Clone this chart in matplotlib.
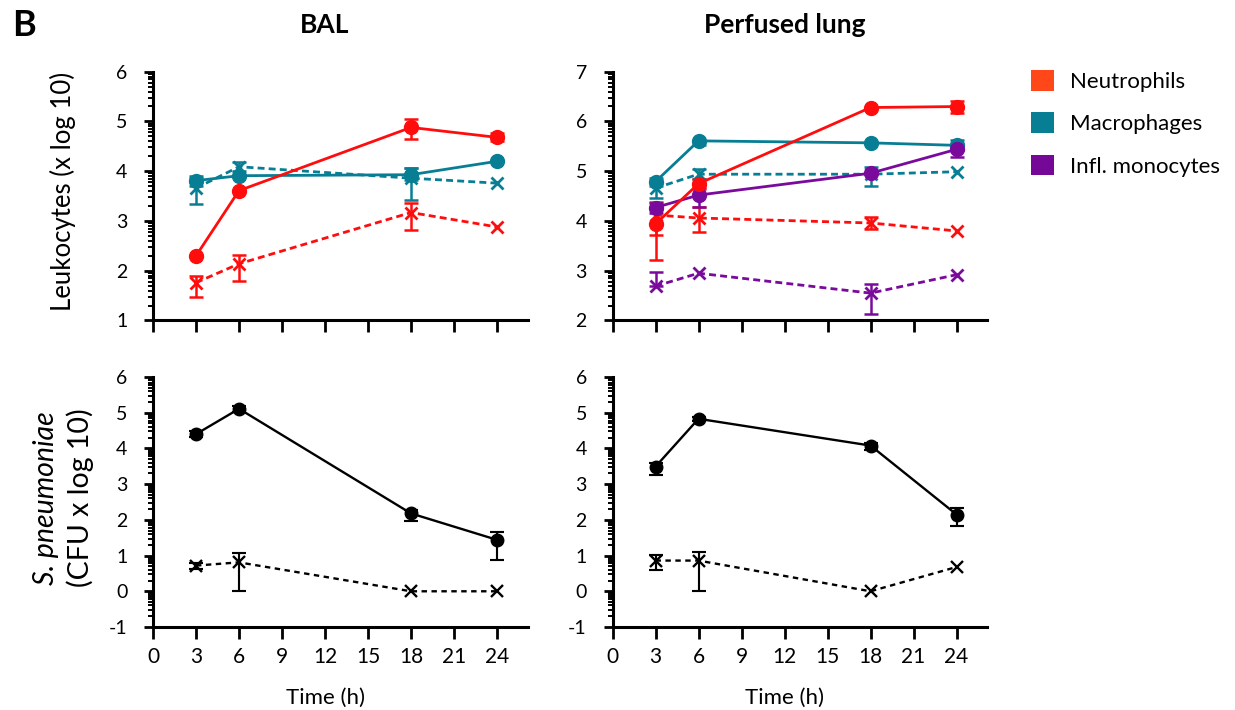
import matplotlib.pyplot as plt
import numpy as np
from matplotlib.patches import Patch

plt.rcParams['font.family'] = ['Lato', 'DejaVu Sans']
plt.rcParams['axes.unicode_minus'] = False

time = [3, 6, 18, 24]
x_ticks = [0, 3, 6, 9, 12, 15, 18, 21, 24]

# series "a" = solid line / circles, series "b" = dashed line / crosses
# errors are given as [lower, upper] (log-transformed SEM, so not symmetric)

# BAL leukocytes
bal_neu_a = [2.30, 3.61, 4.88, 4.68]
bal_neu_a_err = [[0.0, 0.0, 0.24, 0.08], [0.0, 0.0, 0.17, 0.08]]
bal_neu_b = [1.76, 2.14, 3.17, 2.88]
bal_neu_b_err = [[0.29, 0.35, 0.35, 0.0], [0.14, 0.18, 0.19, 0.0]]
bal_mac_a = [3.81, 3.91, 3.93, 4.20]
bal_mac_a_err = [[0.10, 0.0, 0.10, 0.0], [0.10, 0.0, 0.14, 0.0]]
bal_mac_b = [3.66, 4.09, 3.86, 3.76]
bal_mac_b_err = [[0.32, 0.08, 0.44, 0.0], [0.20, 0.10, 0.20, 0.0]]

# Perfused lung leukocytes
lung_neu_a = [3.94, 4.75, 6.28, 6.30]
lung_neu_a_err = [[0.72, 0.10, 0.0, 0.13], [0.35, 0.10, 0.0, 0.12]]
lung_neu_b = [4.12, 4.06, 3.96, 3.80]
lung_neu_b_err = [[0.40, 0.29, 0.13, 0.0], [0.27, 0.23, 0.12, 0.0]]
lung_mac_a = [4.79, 5.61, 5.57, 5.52]
lung_mac_a_err = [[0.08, 0.08, 0.0, 0.10], [0.08, 0.0, 0.0, 0.10]]
lung_mac_b = [4.66, 4.94, 4.94, 4.99]
lung_mac_b_err = [[0.20, 0.10, 0.23, 0.0], [0.10, 0.10, 0.14, 0.0]]
lung_mon_a = [4.27, 4.52, 4.96, 5.44]
lung_mon_a_err = [[0.10, 0.23, 0.0, 0.16], [0.10, 0.15, 0.0, 0.10]]
lung_mon_b = [2.69, 2.95, 2.55, 2.92]
lung_mon_b_err = [[0.0, 0.0, 0.42, 0.0], [0.29, 0.0, 0.18, 0.0]]

# S. pneumoniae CFU
bal_cfu_a = [4.40, 5.11, 2.18, 1.44]
bal_cfu_a_err = [[0.08, 0.08, 0.21, 0.57], [0.08, 0.08, 0.10, 0.23]]
bal_cfu_b = [0.72, 0.81, 0.0, 0.0]
bal_cfu_b_err = [[0.10, 0.81, 0.0, 0.0], [0.08, 0.25, 0.0, 0.0]]
lung_cfu_a = [3.49, 4.83, 4.08, 2.15]
lung_cfu_a_err = [[0.22, 0.05, 0.12, 0.31], [0.10, 0.05, 0.08, 0.19]]
lung_cfu_b = [0.86, 0.86, 0.0, 0.68]
lung_cfu_b_err = [[0.27, 0.86, 0.0, 0.0], [0.15, 0.23, 0.0, 0.0]]

cell_types = ['Neutrophils', 'Macrophages', 'Infl. monocytes']
patch_colors = ['#ff4719', '#087e94', '#750896']
RED = '#ff0d0d'
TEAL = '#087e94'
PURPLE = '#7a0a9c'

W, H = 1235, 710
fig = plt.figure(figsize=(W / 100, H / 100), dpi=100)

def px_axes(x0, x1, ytop, ybot):
    return fig.add_axes([x0 / W, 1 - ybot / H, (x1 - x0) / W, (ybot - ytop) / H])

ax_bal = px_axes(153, 528, 71.7, 320.5)
ax_lung = px_axes(612.5, 987.5, 71.7, 320.5)
ax_bal_cfu = px_axes(153, 528, 377, 627)
ax_lung_cfu = px_axes(612.5, 987.5, 377, 627)


def series(ax, y, err, color, solid, lw=2.0, ms=10, dash=(2.5, 1.5)):
    lo = np.array(err[0])
    hi = np.array(err[1])
    t = np.array(time)
    keep = (lo + hi) > 0
    if keep.any():
        ax.errorbar(t[keep], np.array(y)[keep], yerr=[lo[keep], hi[keep]], fmt='none',
                    ecolor=color, elinewidth=lw * 0.9, capsize=4.8, capthick=lw * 0.9,
                    zorder=2)
    if solid:
        ax.plot(time, y, '-', color=color, lw=lw, marker='o', ms=ms,
                mec=color, mfc=color, zorder=3)
    else:
        ax.plot(time, y, '--', color=color, lw=lw, marker='x', ms=ms * 0.8,
                mew=lw, dashes=dash, zorder=3)


def style(ax, ylo, yhi, show_x):
    ax.set_xlim(0, 26.16)
    ax.set_ylim(ylo, yhi)
    for s in ['top', 'right']:
        ax.spines[s].set_visible(False)
    for s in ['left', 'bottom']:
        ax.spines[s].set_linewidth(2.2)
    ax.set_xticks(x_ticks)
    ax.set_yticks(range(ylo, yhi + 1))
    minor = [k + np.log10(m) for k in range(ylo, yhi) for m in range(2, 10)]
    ax.set_yticks(minor, minor=True)
    ax.tick_params(axis='x', which='major', direction='out', length=8.5,
                   width=2, labelsize=15, pad=6)
    ax.tick_params(axis='y', which='major', direction='out', length=6.5,
                   width=2, labelsize=14, pad=12)
    ax.tick_params(axis='y', which='minor', direction='out', length=3.5, width=1.4)
    if not show_x:
        ax.set_xticklabels([])
    ax.patch.set_alpha(0)


# top panels
series(ax_bal, bal_mac_b, bal_mac_b_err, TEAL, False)
series(ax_bal, bal_neu_b, bal_neu_b_err, RED, False)
series(ax_bal, bal_mac_a, bal_mac_a_err, TEAL, True)
series(ax_bal, bal_neu_a, bal_neu_a_err, RED, True)

series(ax_lung, lung_mac_b, lung_mac_b_err, TEAL, False)
series(ax_lung, lung_mon_b, lung_mon_b_err, PURPLE, False)
series(ax_lung, lung_neu_b, lung_neu_b_err, RED, False)
series(ax_lung, lung_mac_a, lung_mac_a_err, TEAL, True)
series(ax_lung, lung_mon_a, lung_mon_a_err, PURPLE, True)
series(ax_lung, lung_neu_a, lung_neu_a_err, RED, True)

# bottom panels
for ax, a, a_err, b, b_err in [(ax_bal_cfu, bal_cfu_a, bal_cfu_a_err, bal_cfu_b, bal_cfu_b_err),
                               (ax_lung_cfu, lung_cfu_a, lung_cfu_a_err, lung_cfu_b, lung_cfu_b_err)]:
    series(ax, b, b_err, 'black', False, lw=1.7, ms=10, dash=(2.3, 1.9))
    series(ax, a, a_err, 'black', True, lw=1.7, ms=9)

style(ax_bal, 1, 6, False)
style(ax_lung, 2, 7, False)
style(ax_bal_cfu, -1, 6, True)
style(ax_lung_cfu, -1, 6, True)

# titles and axis texts
for ax, title in [(ax_bal, 'BAL'), (ax_lung, 'Perfused lung')]:
    ax.text(12, 1.188, title, transform=ax.get_xaxis_transform(), ha='center',
            va='center', fontsize=19, fontweight='bold')
for ax in [ax_bal_cfu, ax_lung_cfu]:
    ax.text(12, -0.285, 'Time (h)', transform=ax.get_xaxis_transform(), ha='center',
            va='center', fontsize=16)

fig.text(12 / W, 1 - 25 / H, 'B', fontsize=26, fontweight='bold', va='center', ha='left')
fig.text(63 / W, 1 - 191 / H, 'Leukocytes (x log 10)', rotation=90, fontsize=18.5,
         ha='center', va='center')
fig.text(46 / W, 1 - 498 / H, 'S. pneumoniae', rotation=90, fontsize=20.5,
         style='italic', ha='center', va='center')
fig.text(80 / W, 1 - 498 / H, '(CFU x log 10)', rotation=90, fontsize=20.5,
         ha='center', va='center')

handles = [Patch(facecolor=c, edgecolor='none', label=l) for c, l in zip(patch_colors, cell_types)]
fig.legend(handles=handles, loc='upper left', bbox_to_anchor=(1031 / W, 1 - 70 / H),
           frameon=False, fontsize=16, handlelength=1.05, handleheight=1.05,
           handletextpad=0.72, labelspacing=0.92, borderpad=0, borderaxespad=0)

fig.savefig('out.png', dpi=100)
